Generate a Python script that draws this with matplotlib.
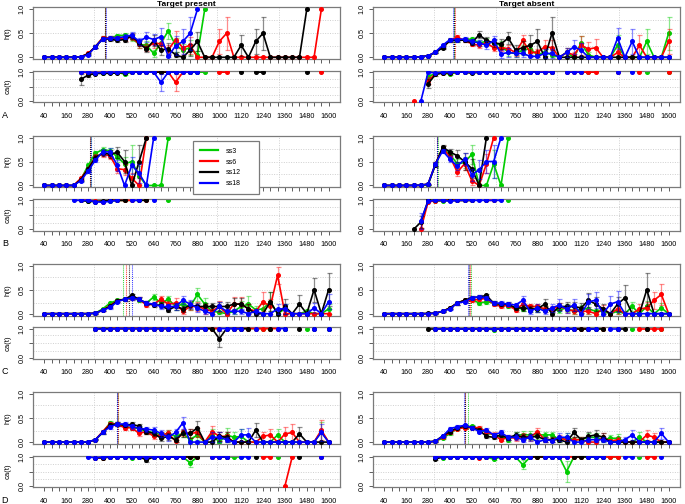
import numpy as np
import matplotlib
matplotlib.use("Agg")
import matplotlib.pyplot as plt
from matplotlib.lines import Line2D

plt.rcParams['font.family'] = ['Liberation Sans', 'DejaVu Sans']

N = None
t_ms = [40, 80, 120, 160, 200, 240, 280, 320, 360, 400,
        440, 480, 520, 560, 600, 640, 680, 720, 760, 800,
        840, 880, 920, 960, 1000, 1040, 1080, 1120, 1160, 1200,
        1240, 1280, 1320, 1360, 1400, 1440, 1480, 1520, 1560, 1600]
series = ["ss3", "ss6", "ss12", "ss18"]
colors = ["#00CD00", "#FF0000", "#000000", "#0000FF"]
row_letters = ["A", "B", "C", "D"]
col_titles = ["Target present", "Target absent"]

# ---------------- A : target present ----------------
A_pres_ss3_h = [0, 0, 0, 0, 0, .01, .07, .22, .40, .40,
                .45, .46, .40, .27, .25, .08, .30, .55, .25, .15,
                .20, .05, 1, N, N, N, N, N, N, N,
                N, N, N, N, N, N, N, N, N, N]
A_pres_ss3_he = [0, 0, 0, 0, 0, .01, .02, .03, .04, .04,
                 .04, .05, .06, .07, .08, .07, .12, .17, .15, .13,
                 .15, .08, 0, 0, 0, 0, 0, 0, 0, 0,
                 0, 0, 0, 0, 0, 0, 0, 0, 0, 0]
A_pres_ss3_ca = [N, N, N, N, N, 1, 1, .97, .98, .99,
                 1, .93, 1, 1, 1, 1, 1, 1, 1, 1,
                 1, 1, 1, N, N, N, N, N, N, N,
                 N, N, N, N, N, N, N, N, N, N]
A_pres_ss3_cae = {11: .04}
A_pres_ss6_h = [0, 0, 0, 0, 0, .01, .08, .22, .41, .40,
                .40, .38, .43, .27, .20, .30, .28, .15, .37, .20,
                .25, 0, 0, 0, .33, .50, 0, 0, 0, 0,
                0, 0, 0, 0, 0, 0, 0, 0, 1, N]
A_pres_ss6_he = [0, 0, 0, 0, 0, .01, .02, .03, .04, .04,
                 .04, .05, .06, .07, .07, .10, .11, .10, .17, .15,
                 .18, 0, 0, 0, .27, .35, 0, 0, 0, 0,
                 0, 0, 0, 0, 0, 0, 0, 0, 0, 0]
A_pres_ss6_ca = [N, N, N, N, N, 1, .98, .98, .99, 1,
                 1, 1, 1, 1, 1, 1, 1, 1, .65, 1,
                 1, N, N, N, 1, 1, N, N, N, N,
                 N, N, N, N, N, N, N, N, 1, N]
A_pres_ss6_cae = {18: .30}
A_pres_ss12_h = [0, 0, 0, 0, 0, .01, .07, .22, .38, .38,
                 .35, .37, .45, .30, .17, .35, .15, .18, .05, 0,
                 .15, .33, 0, 0, 0, 0, 0, .25, 0, .33,
                 .50, 0, 0, 0, 0, 0, 1, N, N, N]
A_pres_ss12_he = [0, 0, 0, 0, 0, .01, .02, .03, .04, .04,
                  .04, .05, .06, .07, .07, .11, .10, .12, .05, 0,
                  .12, .20, 0, 0, 0, 0, 0, .22, 0, .27,
                  .35, 0, 0, 0, 0, 0, 0, 0, 0, 0]
A_pres_ss12_ca = [N, N, N, N, N, .75, .90, .95, .96, .96,
                  .97, .98, 1, 1, 1, 1, 1, 1, 1, N,
                  1, 1, N, N, N, N, N, 1, N, 1,
                  1, N, N, N, N, N, 1, N, N, N]
A_pres_ss12_cae = {5: .20, 6: .05}
A_pres_ss18_h = [0, 0, 0, 0, 0, .01, .05, .22, .38, .40,
                 .40, .43, .46, .33, .42, .37, .43, .02, .24, .33,
                 .50, 1, N, N, N, N, N, N, N, N,
                 N, N, N, N, N, N, N, N, N, N]
A_pres_ss18_he = [0, 0, 0, 0, 0, .01, .02, .03, .04, .04,
                  .04, .05, .06, .08, .10, .12, .18, .02, .20, .27,
                  .35, 0, 0, 0, 0, 0, 0, 0, 0, 0,
                  0, 0, 0, 0, 0, 0, 0, 0, 0, 0]
A_pres_ss18_ca = [N, N, N, N, N, 1, 1, .98, .99, 1,
                  1, 1, 1, 1, 1, 1, .65, 1, 1, 1,
                  1, 1, N, N, N, N, N, N, N, N,
                  N, N, N, N, N, N, N, N, N, N]
A_pres_ss18_cae = {16: .30}
A_pres_med = [375, 372, 370, 378]

# ---------------- A : target absent ----------------
A_abs_ss3_h = [0, 0, 0, 0, 0, .01, .03, .10, .22, .35,
               .36, .37, .38, .30, .33, .30, .25, .10, .08, .15,
               .18, .05, .10, .05, 0, .10, 0, .30, .05, 0,
               0, 0, .25, 0, 0, 0, .33, 0, 0, .50]
A_abs_ss3_he = [0, 0, 0, 0, 0, .01, .01, .02, .03, .04,
                .04, .04, .05, .06, .07, .07, .08, .07, .07, .10,
                .10, .05, .08, .05, 0, .10, 0, .15, .05, 0,
                0, 0, .22, 0, 0, 0, .27, 0, 0, .35]
A_abs_ss3_ca = [N, N, N, N, N, N, .85, .95, .97, .93,
                1, 1, 1, 1, 1, 1, 1, 1, 1, 1,
                1, 1, 1, 1, N, 1, N, 1, 1, N,
                N, N, 1, N, N, N, 1, N, N, 1]
A_abs_ss3_cae = {6: .10, 9: .03}
A_abs_ss6_h = [0, 0, 0, 0, .003, .01, .03, .11, .22, .35,
               .42, .35, .28, .25, .30, .20, .20, .18, .10, .35,
               .10, .10, .22, .20, 0, .10, .05, .25, .17, .20,
               0, 0, .10, 0, 0, .25, 0, 0, 0, .33]
A_abs_ss6_he = [0, 0, 0, 0, 0, .01, .01, .02, .03, .04,
                .04, .04, .05, .05, .06, .06, .07, .08, .07, .12,
                .08, .08, .14, .15, 0, .10, .05, .20, .15, .18,
                0, 0, .10, 0, 0, .22, 0, 0, 0, .27]
A_abs_ss6_ca = [N, N, N, N, 0, N, .70, .95, .97, .98,
                1, 1, 1, 1, 1, 1, 1, 1, 1, 1,
                1, 1, 1, 1, N, 1, 1, 1, 1, 1,
                N, N, 1, N, N, 1, N, N, N, 1]
A_abs_ss6_cae = {6: .12}
A_abs_ss12_h = [0, 0, 0, 0, 0, .01, .03, .10, .20, .35,
                .35, .36, .30, .47, .35, .30, .28, .40, .15, .20,
                .25, .33, 0, .50, 0, 0, 0, 0, 0, 0,
                0, 0, 0, 0, 0, 0, 0, 0, 0, 0]
A_abs_ss12_he = [0, 0, 0, 0, 0, .01, .01, .02, .03, .04,
                 .04, .05, .05, .07, .08, .08, .10, .13, .10, .13,
                 .22, .27, 0, .35, 0, 0, 0, 0, 0, 0,
                 0, 0, 0, 0, 0, 0, 0, 0, 0, 0]
A_abs_ss12_ca = [N, N, N, N, N, N, .60, .92, .97, .98,
                 1, 1, .96, 1, 1, 1, 1, 1, 1, 1,
                 1, 1, N, 1, N, N, N, N, N, N,
                 N, N, N, N, N, N, N, N, N, N]
A_abs_ss12_cae = {6: .15, 7: .05}
A_abs_ss18_h = [0, 0, 0, 0, 0, .01, .03, .11, .25, .37,
                .37, .38, .33, .30, .25, .35, .07, .10, .08, .08,
                .02, .02, .08, .08, 0, .10, .22, .15, 0, 0,
                0, 0, .40, 0, .33, 0, 0, 0, 0, 0]
A_abs_ss18_he = [0, 0, 0, 0, 0, .01, .01, .02, .03, .04,
                 .04, .05, .05, .06, .08, .10, .08, .10, .08, .08,
                 .02, .02, .10, .10, 0, .10, .15, .15, 0, 0,
                 0, 0, .22, 0, .27, 0, 0, 0, 0, 0]
A_abs_ss18_ca = [N, N, N, N, N, 0, 1, .97, 1, 1,
                 1, 1, 1, 1, 1, 1, 1, 1, 1, 1,
                 1, 1, 1, 1, N, 1, 1, 1, N, N,
                 N, N, 1, N, 1, N, N, N, N, N]
A_abs_ss18_cae = {}
A_abs_med = [422, 425, 420, 415]

# ---------------- B : target present ----------------
B_pres_ss3_h = [0, 0, 0, 0, 0, .12, .42, .67, .75, .72,
                .60, .45, .50, .20, 0, 0, 0, 1, N, N,
                N, N, N, N, N, N, N, N, N, N,
                N, N, N, N, N, N, N, N, N, N]
B_pres_ss3_he = [0, 0, 0, 0, 0, .02, .04, .05, .05, .06,
                 .10, .15, .35, .20, 0, 0, 0, 0, 0, 0,
                 0, 0, 0, 0, 0, 0, 0, 0, 0, 0,
                 0, 0, 0, 0, 0, 0, 0, 0, 0, 0]
B_pres_ss3_ca = [N, N, N, N, N, 1, .98, .97, .97, .97,
                 1, 1, 1, 1, N, N, N, 1, N, N,
                 N, N, N, N, N, N, N, N, N, N,
                 N, N, N, N, N, N, N, N, N, N]
B_pres_ss3_cae = {}
B_pres_ss6_h = [0, 0, 0, 0, 0, .15, .35, .60, .65, .62,
                .35, .33, .15, 0, 1, N, N, N, N, N,
                N, N, N, N, N, N, N, N, N, N,
                N, N, N, N, N, N, N, N, N, N]
B_pres_ss6_he = [0, 0, 0, 0, 0, .03, .04, .05, .05, .06,
                 .08, .12, .12, 0, 0, 0, 0, 0, 0, 0,
                 0, 0, 0, 0, 0, 0, 0, 0, 0, 0,
                 0, 0, 0, 0, 0, 0, 0, 0, 0, 0]
B_pres_ss6_ca = [N, N, N, N, N, 1, 1, .97, .96, 1,
                 1, 1, 1, N, 1, N, N, N, N, N,
                 N, N, N, N, N, N, N, N, N, N,
                 N, N, N, N, N, N, N, N, N, N]
B_pres_ss6_cae = {}
B_pres_ss12_h = [0, 0, 0, 0, 0, .12, .35, .58, .68, .65,
                 .69, .50, 0, .50, 1, N, N, N, N, N,
                 N, N, N, N, N, N, N, N, N, N,
                 N, N, N, N, N, N, N, N, N, N]
B_pres_ss12_he = [0, 0, 0, 0, 0, .03, .04, .05, .06, .08,
                  .12, .25, 0, .35, 0, 0, 0, 0, 0, 0,
                  0, 0, 0, 0, 0, 0, 0, 0, 0, 0,
                  0, 0, 0, 0, 0, 0, 0, 0, 0, 0]
B_pres_ss12_ca = [N, N, N, N, N, 1, .97, .95, .98, 1,
                  1, 1, N, 1, 1, N, N, N, N, N,
                  N, N, N, N, N, N, N, N, N, N,
                  N, N, N, N, N, N, N, N, N, N]
B_pres_ss12_cae = {}
B_pres_ss18_h = [0, 0, 0, 0, .003, .10, .30, .53, .70, .70,
                 .42, 0, .42, .25, 0, 1, N, N, N, N,
                 N, N, N, N, N, N, N, N, N, N,
                 N, N, N, N, N, N, N, N, N, N]
B_pres_ss18_he = [0, 0, 0, 0, 0, .02, .04, .05, .06, .08,
                  .12, 0, .18, .20, 0, 0, 0, 0, 0, 0,
                  0, 0, 0, 0, 0, 0, 0, 0, 0, 0,
                  0, 0, 0, 0, 0, 0, 0, 0, 0, 0]
B_pres_ss18_ca = [N, N, N, N, 1, 1, 1, .96, .93, .97,
                  1, N, 1, 1, N, 1, N, N, N, N,
                  N, N, N, N, N, N, N, N, N, N,
                  N, N, N, N, N, N, N, N, N, N]
B_pres_ss18_cae = {}
B_pres_med = [295, 290, 288, 298]

# ---------------- B : target absent ----------------
B_abs_ss3_h = [0, 0, 0, 0, 0, 0, .01, .45, .77, .65,
               .45, .48, .65, 0, 0, .45, 0, 1, N, N,
               N, N, N, N, N, N, N, N, N, N,
               N, N, N, N, N, N, N, N, N, N]
B_abs_ss3_he = [0, 0, 0, 0, 0, 0, .01, .05, .05, .07,
                .10, .12, .20, 0, 0, .30, 0, 0, 0, 0,
                0, 0, 0, 0, 0, 0, 0, 0, 0, 0,
                0, 0, 0, 0, 0, 0, 0, 0, 0, 0]
B_abs_ss3_ca = [N, N, N, N, N, N, 1, .97, .99, 1,
                1, 1, 1, N, N, 1, N, 1, N, N,
                N, N, N, N, N, N, N, N, N, N,
                N, N, N, N, N, N, N, N, N, N]
B_abs_ss3_cae = {}
B_abs_ss6_h = [0, 0, 0, 0, 0, .003, .03, .45, .78, .60,
               .28, .45, .10, 0, .45, 1, N, N, N, N,
               N, N, N, N, N, N, N, N, N, N,
               N, N, N, N, N, N, N, N, N, N]
B_abs_ss6_he = [0, 0, 0, 0, 0, 0, .01, .05, .05, .07,
                .08, .12, .10, 0, .20, 0, 0, 0, 0, 0,
                0, 0, 0, 0, 0, 0, 0, 0, 0, 0,
                0, 0, 0, 0, 0, 0, 0, 0, 0, 0]
B_abs_ss6_ca = [N, N, N, N, N, 0, .95, .98, 1, 1,
                1, 1, 1, N, 1, 1, N, N, N, N,
                N, N, N, N, N, N, N, N, N, N,
                N, N, N, N, N, N, N, N, N, N]
B_abs_ss6_cae = {}
B_abs_ss12_h = [0, 0, 0, 0, .003, .005, .03, .43, .80, .70,
                .62, .50, .35, 0, 1, N, N, N, N, N,
                N, N, N, N, N, N, N, N, N, N,
                N, N, N, N, N, N, N, N, N, N]
B_abs_ss12_he = [0, 0, 0, 0, 0, 0, .01, .05, .05, .07,
                 .12, .17, .20, 0, 0, 0, 0, 0, 0, 0,
                 0, 0, 0, 0, 0, 0, 0, 0, 0, 0,
                 0, 0, 0, 0, 0, 0, 0, 0, 0, 0]
B_abs_ss12_ca = [N, N, N, N, 0, .25, 1, 1, 1, 1,
                 1, 1, 1, N, 1, N, N, N, N, N,
                 N, N, N, N, N, N, N, N, N, N,
                 N, N, N, N, N, N, N, N, N, N]
B_abs_ss12_cae = {5: .20}
B_abs_ss18_h = [0, 0, 0, 0, 0, .005, .03, .45, .72, .55,
                .40, .55, .22, .33, .50, .50, 1, N, N, N,
                N, N, N, N, N, N, N, N, N, N,
                N, N, N, N, N, N, N, N, N, N]
B_abs_ss18_he = [0, 0, 0, 0, 0, 0, .01, .05, .05, .07,
                 .08, .12, .12, .20, .25, .35, 0, 0, 0, 0,
                 0, 0, 0, 0, 0, 0, 0, 0, 0, 0,
                 0, 0, 0, 0, 0, 0, 0, 0, 0, 0]
B_abs_ss18_ca = [N, N, N, N, N, .30, .97, 1, 1, .97,
                 1, 1, 1, 1, 1, 1, 1, N, N, N,
                 N, N, N, N, N, N, N, N, N, N,
                 N, N, N, N, N, N, N, N, N, N]
B_abs_ss18_cae = {5: .27}
B_abs_med = [332, 330, 330, 328]

# ---------------- C : target present ----------------
C_pres_ss3_h = [0, 0, 0, 0, 0, 0, 0, .01, .10, .22,
                .28, .30, .33, .28, .22, .35, .22, .30, .15, .20,
                .15, .40, .20, .05, .03, 0, .05, .15, .20, .08,
                .10, .25, 0, .10, 0, 0, .05, 0, 0, .10]
C_pres_ss3_he = [0, 0, 0, 0, 0, 0, 0, .01, .02, .03,
                 .03, .03, .04, .04, .04, .06, .06, .07, .07, .08,
                 .08, .13, .12, .05, .03, 0, .05, .12, .17, .08,
                 .10, .20, 0, .10, 0, 0, .05, 0, 0, .10]
C_pres_ss3_ca = [N, N, N, N, N, N, N, 1, .97, 1,
                 1, 1, 1, 1, 1, 1, 1, 1, 1, 1,
                 1, 1, 1, 1, 1, N, 1, 1, 1, 1,
                 1, 1, N, 1, N, N, 1, N, N, 1]
C_pres_ss3_cae = {}
C_pres_ss6_h = [0, 0, 0, 0, 0, 0, 0, .01, .07, .17,
                .27, .30, .33, .30, .18, .20, .30, .20, .22, .05,
                .15, .15, .10, .05, .15, 0, .20, .20, .10, .05,
                .25, .15, .80, 0, 0, 0, 0, 0, 0, 0]
C_pres_ss6_he = [0, 0, 0, 0, 0, 0, 0, .01, .02, .03,
                 .03, .03, .04, .04, .04, .05, .07, .07, .10, .05,
                 .08, .10, .10, .05, .12, 0, .15, .15, .10, .05,
                 .20, .15, .18, 0, 0, 0, 0, 0, 0, 0]
C_pres_ss6_ca = [N, N, N, N, N, N, N, 1, .97, 1,
                 1, 1, 1, 1, 1, 1, 1, 1, 1, 1,
                 1, 1, 1, 1, 1, N, 1, 1, 1, 1,
                 1, 1, 1, N, N, N, N, N, N, N]
C_pres_ss6_cae = {}
C_pres_ss12_h = [0, 0, 0, 0, 0, 0, 0, .01, .08, .15,
                 .27, .30, .38, .30, .22, .18, .18, .08, .15, .10,
                 .18, .15, .15, .15, .15, .15, .20, .20, .10, 0,
                 0, .25, 0, .15, 0, .20, 0, .50, 0, .50]
C_pres_ss12_he = [0, 0, 0, 0, 0, 0, 0, .01, .02, .03,
                  .03, .03, .04, .04, .04, .05, .06, .05, .07, .07,
                  .08, .08, .08, .08, .10, .10, .12, .12, .10, 0,
                  0, .20, 0, .15, 0, .18, 0, .25, 0, .35]
C_pres_ss12_ca = [N, N, N, N, N, N, N, 1, 1, 1,
                  1, 1, 1, 1, 1, 1, 1, 1, 1, 1,
                  1, 1, 1, 1, .65, 1, 1, 1, 1, N,
                  N, 1, N, 1, N, 1, N, 1, N, 1]
C_pres_ss12_cae = {24: .28}
C_pres_ss18_h = [0, 0, 0, 0, 0, 0, 0, .01, .07, .13,
                 .25, .30, .33, .30, .22, .20, .15, .15, .15, .28,
                 .20, .12, .05, 0, .15, .05, .05, .05, 0, .05,
                 0, 0, .10, .10, 0, 0, 0, .12, 0, .25]
C_pres_ss18_he = [0, 0, 0, 0, 0, 0, 0, .01, .02, .03,
                  .03, .03, .04, .04, .04, .05, .05, .06, .07, .08,
                  .08, .08, .05, 0, .10, .05, .05, .05, 0, .05,
                  0, 0, .10, .10, 0, 0, 0, .10, 0, .15]
C_pres_ss18_ca = [N, N, N, N, N, N, N, 1, .97, .98,
                  1, 1, 1, 1, 1, 1, 1, 1, 1, 1,
                  1, 1, 1, N, 1, 1, 1, 1, N, 1,
                  N, N, 1, 1, N, N, N, 1, N, 1]
C_pres_ss18_cae = {}
C_pres_med = [470, 490, 505, 520]

# ---------------- C : target absent ----------------
C_abs_ss3_h = [0, 0, 0, 0, 0, 0, 0, .01, .05, .12,
               .22, .28, .30, .22, .25, .22, .18, .17, .12, .10,
               .12, .10, .10, .08, .08, .12, .05, .10, .10, .05,
               .05, 0, .05, 0, .15, 0, .15, 0, .12, 0]
C_abs_ss3_he = [0, 0, 0, 0, 0, 0, 0, .01, .01, .02,
                .03, .03, .03, .03, .04, .04, .04, .05, .05, .05,
                .06, .06, .06, .06, .06, .08, .05, .08, .10, .05,
                .05, 0, .05, 0, .10, 0, .12, 0, .10, 0]
C_abs_ss3_ca = [N, N, N, N, N, N, N, 1, .97, 1,
                1, 1, 1, 1, 1, .95, 1, 1, 1, 1,
                1, 1, 1, 1, 1, 1, 1, 1, 1, 1,
                1, N, 1, N, 1, N, 1, N, 1, N]
C_abs_ss3_cae = {}
C_abs_ss6_h = [0, 0, 0, 0, 0, 0, 0, .01, .05, .12,
               .22, .28, .28, .30, .32, .20, .15, .18, .08, .20,
               .15, .15, .10, .10, .15, .10, .05, .05, .05, 0,
               .10, 0, .10, 0, 0, .10, .12, .28, .40, 0]
C_abs_ss6_he = [0, 0, 0, 0, 0, 0, 0, .01, .01, .02,
                .03, .03, .03, .03, .04, .04, .04, .05, .05, .06,
                .06, .06, .06, .06, .08, .08, .05, .05, .05, 0,
                .08, 0, .10, 0, 0, .10, .12, .18, .22, 0]
C_abs_ss6_ca = [N, N, N, N, N, N, N, 1, 1, 1,
                1, 1, 1, 1, 1, 1, 1, 1, 1, 1,
                1, 1, 1, 1, 1, 1, 1, 1, 1, N,
                1, N, 1, N, N, 1, 1, 1, 1, N]
C_abs_ss6_cae = {}
C_abs_ss12_h = [0, 0, 0, 0, 0, 0, .005, .01, .05, .12,
                .22, .28, .33, .35, .38, .22, .20, .20, .12, .12,
                .10, .10, .20, 0, .15, .15, .15, .12, .28, .20,
                .10, 0, .20, .33, 0, 0, .50, 0, 0, 0]
C_abs_ss12_he = [0, 0, 0, 0, 0, 0, 0, .01, .01, .02,
                 .03, .03, .03, .03, .04, .04, .04, .05, .05, .06,
                 .06, .06, .10, 0, .08, .10, .10, .10, .15, .15,
                 .10, 0, .15, .27, 0, 0, .35, 0, 0, 0]
C_abs_ss12_ca = [N, N, N, N, N, N, 1, 1, 1, 1,
                 1, 1, 1, 1, 1, 1, 1, 1, 1, 1,
                 1, 1, 1, N, 1, 1, 1, 1, 1, 1,
                 1, N, 1, 1, N, N, 1, N, N, N]
C_abs_ss12_cae = {}
C_abs_ss18_h = [0, 0, 0, 0, 0, 0, 0, .01, .05, .10,
                .22, .25, .33, .35, .33, .22, .22, .20, .18, .28,
                .05, .12, .05, .12, .18, .10, .18, 0, .25, .28,
                0, .20, .25, 0, 0, 0, 0, 0, 0, 0]
C_abs_ss18_he = [0, 0, 0, 0, 0, 0, 0, .01, .01, .02,
                 .03, .03, .03, .03, .04, .04, .04, .05, .05, .08,
                 .05, .08, .05, .08, .12, .08, .12, 0, .15, .17,
                 0, .17, .22, 0, 0, 0, 0, 0, 0, 0]
C_abs_ss18_ca = [N, N, N, N, N, N, N, 1, 1, 1,
                 1, 1, 1, 1, 1, 1, 1, 1, 1, 1,
                 1, 1, 1, 1, 1, 1, 1, N, 1, 1,
                 N, 1, 1, N, N, N, N, N, N, N]
C_abs_ss18_cae = {}
C_abs_med = [514, 510, 502, 497]

# ---------------- D : target present ----------------
D_pres_ss3_h = [0, 0, 0, 0, 0, 0, 0, .05, .20, .40,
                .37, .33, .30, .28, .22, .20, .15, .18, .12, .18,
                .05, .15, 0, .15, 0, .15, .10, .12, 0, 0,
                0, 0, .15, 0, 0, 0, 0, 0, .22, 0]
D_pres_ss3_he = [0, 0, 0, 0, 0, 0, 0, .01, .03, .04,
                 .04, .04, .04, .05, .05, .05, .06, .07, .07, .08,
                 .05, .10, 0, .12, 0, .15, .10, .15, 0, 0,
                 0, 0, .12, 0, 0, 0, 0, 0, .20, 0]
D_pres_ss3_ca = [N, N, N, N, N, N, N, 1, .97, 1,
                 1, 1, .97, 1, 1, 1, 1, 1, 1, 1,
                 .80, 1, N, 1, N, 1, 1, 1, N, N,
                 N, N, 1, N, N, N, N, N, 1, N]
D_pres_ss3_cae = {20: .15}
D_pres_ss6_h = [0, 0, 0, 0, 0, 0, 0, .05, .22, .38,
                .37, .30, .30, .18, .22, .12, .15, .18, .02, .20,
                .18, .20, 0, .22, .12, .12, 0, 0, 0, 0,
                .12, .15, 0, .17, .20, 0, 0, 0, .25, 0]
D_pres_ss6_he = [0, 0, 0, 0, 0, 0, 0, .01, .03, .04,
                 .04, .04, .04, .05, .05, .05, .06, .07, .02, .08,
                 .10, .10, 0, .12, .10, .10, 0, 0, 0, 0,
                 .10, .12, 0, .15, .18, 0, 0, 0, .20, 0]
D_pres_ss6_ca = [N, N, N, N, N, N, N, .97, .97, 1,
                 1, 1, 1, 1, 1, 1, 1, 1, 1, 1,
                 1, 1, N, 1, 1, 1, N, N, N, N,
                 1, 1, N, 0, 1, N, N, N, 1, N]
D_pres_ss6_cae = {}
D_pres_ss12_h = [0, 0, 0, 0, 0, 0, 0, .05, .20, .35,
                 .38, .35, .37, .33, .22, .18, .08, .12, .05, .18,
                 .18, .30, 0, 0, .12, .10, 0, 0, 0, .25,
                 0, 0, 0, 0, 0, .17, 0, 0, 0, 0]
D_pres_ss12_he = [0, 0, 0, 0, 0, 0, 0, .01, .03, .04,
                  .04, .04, .05, .05, .05, .06, .05, .07, .05, .08,
                  .10, .13, 0, 0, .10, .10, 0, 0, 0, .15,
                  0, 0, 0, 0, 0, .15, 0, 0, 0, 0]
D_pres_ss12_ca = [N, N, N, N, N, N, N, .97, .97, 1,
                  1, 1, 1, 1, .90, 1, 1, 1, 1, 1,
                  1, 1, N, N, 1, 1, N, N, N, 1,
                  N, N, N, N, N, 1, N, N, N, N]
D_pres_ss12_cae = {14: .06}
D_pres_ss18_h = [0, 0, 0, 0, 0, 0, .005, .05, .20, .32,
                 .37, .38, .33, .28, .27, .25, .18, .10, .20, .40,
                 0, 0, 0, .10, .10, .05, 0, .15, .15, 0,
                 0, 0, 0, 0, 0, 0, 0, 0, .20, 0]
D_pres_ss18_he = [0, 0, 0, 0, 0, 0, 0, .01, .03, .04,
                  .04, .04, .05, .05, .05, .06, .07, .07, .08, .12,
                  0, 0, 0, .10, .10, .05, 0, .12, .15, 0,
                  0, 0, 0, 0, 0, 0, 0, 0, .18, 0]
D_pres_ss18_ca = [N, N, N, N, N, N, 1, .97, 1, 1,
                  1, 1, 1, 1, 1, 1, 1, 1, 1, 1,
                  N, N, N, 1, 1, 1, N, 1, 1, N,
                  N, N, N, N, N, N, N, N, 1, N]
D_pres_ss18_cae = {}
D_pres_med = [443, 445, 441, 438]

# ---------------- D : target absent ----------------
D_abs_ss3_h = [0, 0, 0, 0, 0, 0, 0, .02, .08, .18,
               .28, .32, .33, .27, .20, .15, .12, .05, .15, .15,
               .15, .15, .15, .15, .05, .10, .05, .05, .10, .10,
               .05, .08, .08, 0, 0, .10, 0, 0, 0, 0]
D_abs_ss3_he = [0, 0, 0, 0, 0, 0, 0, .01, .02, .03,
                .03, .03, .03, .04, .04, .04, .05, .04, .06, .08,
                .08, .08, .07, .07, .05, .08, .05, .05, .08, .08,
                .05, .07, .08, 0, 0, .10, 0, 0, 0, 0]
D_abs_ss3_ca = [N, N, N, N, N, N, N, 1, .97, 1,
                1, 1, 1, 1, 1, .92, 1, 1, 1, .73,
                1, 1, 1, 1, 1, .50, 1, 1, 1, 1,
                1, 1, 1, N, N, 1, N, N, N, N]
D_abs_ss3_cae = {15: .04, 19: .15, 25: .35}
D_abs_ss6_h = [0, 0, 0, 0, 0, 0, 0, .02, .10, .20,
               .28, .30, .30, .30, .22, .15, .05, .10, .08, .12,
               .10, .22, .05, .05, .08, .05, .05, .05, 0, 0,
               .10, .02, .05, 0, 0, 0, .15, .10, 0, 0]
D_abs_ss6_he = [0, 0, 0, 0, 0, 0, 0, .01, .02, .03,
                .03, .03, .03, .04, .04, .05, .03, .05, .06, .06,
                .07, .08, .05, .05, .06, .05, .05, .05, 0, 0,
                .08, .02, .05, 0, 0, 0, .10, .08, 0, 0]
D_abs_ss6_ca = [N, N, N, N, N, N, N, 1, 1, 1,
                1, 1, 1, .98, 1, 1, 1, 1, 1, 1,
                1, 1, 1, 1, 1, 1, 1, 1, N, N,
                1, 1, 1, N, N, N, 1, 1, N, N]
D_abs_ss6_cae = {}
D_abs_ss12_h = [0, 0, 0, 0, 0, 0, 0, .02, .13, .22,
                .30, .33, .30, .25, .12, .10, .15, .08, .15, .10,
                .10, .12, .05, .05, .05, 0, .20, .05, .12, .15,
                .10, 0, 0, 0, 0, 0, 0, 0, 0, 0]
D_abs_ss12_he = [0, 0, 0, 0, 0, 0, 0, .01, .02, .03,
                 .03, .03, .03, .04, .04, .04, .05, .04, .06, .06,
                 .06, .07, .05, .05, .05, 0, .10, .05, .08, .10,
                 .08, 0, 0, 0, 0, 0, 0, 0, 0, 0]
D_abs_ss12_ca = [N, N, N, N, N, N, N, .93, 1, 1,
                 1, 1, 1, 1, 1, 1, 1, 1, 1, 1,
                 1, 1, 1, 1, 1, N, 1, 1, 1, 1,
                 1, N, N, N, N, N, N, N, N, N]
D_abs_ss12_cae = {7: .04}
D_abs_ss18_h = [0, 0, 0, 0, 0, 0, 0, .02, .12, .28,
                .32, .35, .30, .22, .25, .15, .20, .10, .10, .05,
                .10, 0, .05, .03, .10, .10, 0, 0, .05, .05,
                .05, 0, 0, .05, .15, 0, 0, 0, .18, 0]
D_abs_ss18_he = [0, 0, 0, 0, 0, 0, 0, .01, .02, .03,
                 .03, .03, .03, .04, .04, .04, .06, .05, .06, .05,
                 .07, 0, .05, .03, .08, .08, 0, 0, .05, .05,
                 .05, 0, 0, .05, .10, 0, 0, 0, .12, 0]
D_abs_ss18_ca = [N, N, N, N, N, N, N, 1, 1, 1,
                 1, 1, 1, 1, 1, 1, 1, 1, 1, 1,
                 1, N, 1, 1, 1, 1, N, N, 1, 1,
                 1, N, N, 1, 1, N, N, N, 1, N]
D_abs_ss18_cae = {}
D_abs_med = [500, 482, 485, 478]

panels = {}
for r in row_letters:
    for c, cond in enumerate(["pres", "abs"]):
        g = globals()
        panels[(r, c)] = dict(
            h=[g[f"{r}_{cond}_{s}_h"] for s in series],
            he=[g[f"{r}_{cond}_{s}_he"] for s in series],
            ca=[g[f"{r}_{cond}_{s}_ca"] for s in series],
            cae=[g[f"{r}_{cond}_{s}_cae"] for s in series],
            med=g[f"{r}_{cond}_med"])
        for key in ("h", "he", "ca"):
            for lst in panels[(r, c)][key]:
                assert len(lst) == len(t_ms), (r, cond, key, len(lst))

# ---------------- layout ----------------
W, H = 685, 504
fig = plt.figure(figsize=(W / 100, H / 100), dpi=100)
fig.patch.set_facecolor("white")

def add_ax(x0, top, w, h):
    return fig.add_axes([x0 / W, 1 - (top + h) / H, w / W, h / H])

col_x = [33, 373]
col_w = 307
row_top = [7.4, 135.6, 263.8, 392.2]
h_h = 51.8
ca_off = 63.6
ca_h = 31.4
XL = (-22.4, 1662.4)
YL = (-0.04, 1.04)
grid_x = [XL[0] + i * (XL[1] - XL[0]) / 5 for i in range(1, 5)]
grid_y = [YL[0] + i * (YL[1] - YL[0]) / 4 for i in range(1, 4)]
tick_fs = 5.2
spine_col = "#7a7a7a"
xlabels = [str(v) if i % 3 == 0 else "" for i, v in enumerate(t_ms)]
t = np.array(t_ms, dtype=float)


def style(ax, bottom_labels, ylabels):
    ax.set_xlim(*XL)
    ax.set_ylim(*YL)
    for gx in grid_x:
        ax.axvline(gx, color="#cfcfcf", ls=(0, (1, 1.5)), lw=0.7, zorder=0)
    for gy in grid_y:
        ax.axhline(gy, color="#cfcfcf", ls=(0, (1, 1.5)), lw=0.7, zorder=0)
    for sp in ax.spines.values():
        sp.set_color(spine_col)
        sp.set_linewidth(0.9)
    ax.set_xticks(t_ms)
    ax.set_xticklabels(xlabels if bottom_labels else [""] * len(t_ms))
    ax.set_yticks([0, 0.5, 1.0])
    ax.set_yticklabels(ylabels, rotation=90, va="center")
    ax.tick_params(axis="both", direction="out", length=3, width=0.6,
                   color="#444444", labelsize=tick_fs, pad=2.5)
    ax.tick_params(axis="x", pad=4.5)


legend_handles = []
for r_i, r in enumerate(row_letters):
    for c in range(2):
        p = panels[(r, c)]
        ax_h = add_ax(col_x[c], row_top[r_i], col_w, h_h)
        ax_c = add_ax(col_x[c], row_top[r_i] + ca_off, col_w, ca_h)
        style(ax_h, False, ["0.0", "0.5", "1.0"])
        style(ax_c, True, ["0.0", "", "1.0"])
        for med, col in zip(p["med"], colors):
            ax_h.axvline(med, color=col, ls=(0, (1, 1)), lw=0.75, alpha=0.8,
                         zorder=1)
        for s_i, col in enumerate(colors):
            z = 2 + s_i
            h = np.array(p["h"][s_i], dtype=float)
            he = np.array(p["he"][s_i], dtype=float)
            m = (he > 0) & ~np.isnan(h)
            if m.any():
                ax_h.errorbar(t[m], h[m], yerr=he[m], fmt="none", ecolor=col,
                              alpha=0.45, elinewidth=0.9, capsize=1.8,
                              capthick=0.9, zorder=z)
            ax_h.plot(t, h, color=col, lw=1.2, marker="o", ms=2.6,
                      zorder=z + 0.5)
            if r_i == 0 and c == 0:
                legend_handles.append(Line2D([], [], color=col, lw=1.6))
            ca = np.array(p["ca"][s_i], dtype=float)
            cae = p["cae"][s_i]
            if cae:
                idx = sorted(cae)
                ax_c.errorbar(t[idx], ca[idx], yerr=[cae[i] for i in idx],
                              fmt="none", ecolor=col, alpha=0.45,
                              elinewidth=0.9, capsize=1.8, capthick=0.9,
                              zorder=z)
            ax_c.plot(t, ca, color=col, lw=1.2, marker="o", ms=2.6,
                      zorder=z + 0.5)
        if c == 0:
            yc_h = row_top[r_i] + h_h / 2
            yc_c = row_top[r_i] + ca_off + ca_h / 2
            fig.text(8 / W, 1 - yc_h / H, "h(t)", rotation=90, ha="center",
                     va="center", fontsize=5.5)
            fig.text(8 / W, 1 - yc_c / H, "ca(t)", rotation=90, ha="center",
                     va="center", fontsize=5.5)
        if r_i == 0:
            fig.text((col_x[c] + col_w / 2) / W, 1 - 4 / H, col_titles[c],
                     ha="center", va="center", fontsize=6, fontweight="bold")
        if c == 0:
            fig.text(5 / W, 1 - (row_top[r_i] + 108) / H, r, ha="center",
                     va="center", fontsize=6.5)
        if r_i == 1 and c == 0:
            leg = ax_h.legend(legend_handles, series, loc="upper left",
                              bbox_to_anchor=(0.511, 0.04, 0.238, 0.925),
                              mode="expand", fontsize=5, handlelength=2.6,
                              handletextpad=1.0, labelspacing=0.55,
                              borderpad=1.0, fancybox=False, framealpha=1,
                              edgecolor="#7a7a7a")
            leg.get_frame().set_linewidth(0.9)
            leg.set_zorder(10)

fig.savefig("out.png", dpi=100, facecolor="white")
